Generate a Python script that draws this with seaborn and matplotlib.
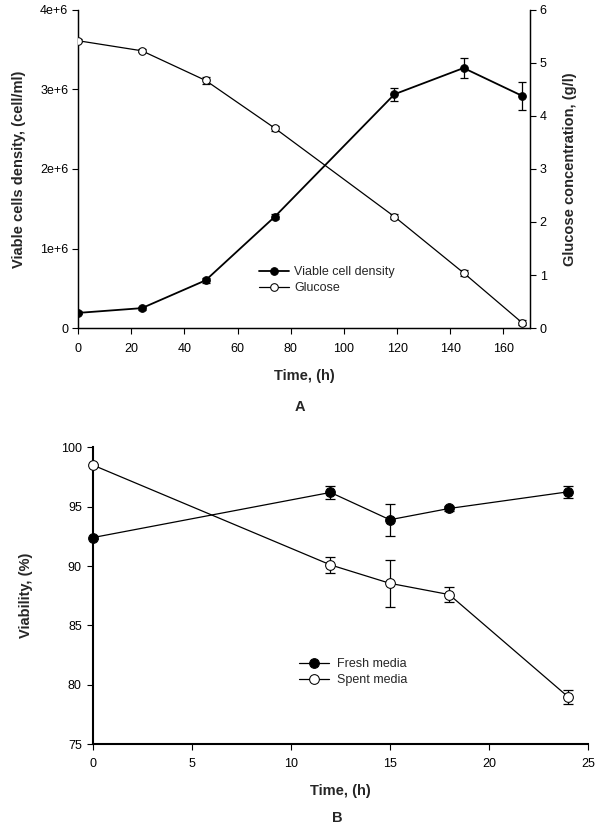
import matplotlib
matplotlib.use("Agg")
import matplotlib.pyplot as plt
import matplotlib.ticker as mticker
import seaborn as sns
import pandas as pd

# Panel A data
time_a = [0, 24, 48, 74, 119, 145, 167]
viable = [0.19e6, 0.25e6, 0.60e6, 1.40e6, 2.94e6, 3.27e6, 2.92e6]
viable_err = [0.02e6, 0.02e6, 0.03e6, 0.03e6, 0.08e6, 0.13e6, 0.18e6]
glucose = [5.42, 5.23, 4.67, 3.77, 2.10, 1.04, 0.10]
glucose_err = [0.03, 0.03, 0.07, 0.05, 0.05, 0.05, 0.05]

# Panel B data
time_b = [0, 12, 15, 18, 24]
fresh = [92.4, 96.2, 93.9, 94.85, 96.25]
fresh_err = [0.1, 0.55, 1.33, 0.2, 0.5]
spent = [98.5, 90.1, 88.55, 87.6, 79.0]
spent_err = [0.1, 0.67, 2.0, 0.63, 0.6]

sns.set_style("ticks")
plt.rcParams['font.family'] = ['Liberation Sans', 'DejaVu Sans']
plt.rcParams['axes.edgecolor'] = 'black'
plt.rcParams['xtick.color'] = 'black'
plt.rcParams['ytick.color'] = 'black'

fig = plt.figure(figsize=(6.01, 8.30), dpi=100)

# ---- Panel A ----
ax1 = fig.add_axes([0.1298, 0.6048, 0.882 - 0.1298, 0.988 - 0.6048])
ax2 = ax1.twinx()
df_a = pd.DataFrame({"time": time_a, "viable": viable, "glucose": glucose})

ax1.errorbar(time_a, viable, yerr=viable_err, fmt='none', ecolor='black',
             elinewidth=0.9, capsize=3, capthick=0.9, zorder=2)
sns.lineplot(data=df_a, x="time", y="viable", ax=ax1, color='black', linewidth=1.3,
             marker='o', markersize=5.5, markerfacecolor='black', markeredgecolor='black',
             label="Viable cell density", legend=False, zorder=3)
ax2.errorbar(time_a, glucose, yerr=glucose_err, fmt='none', ecolor='black',
             elinewidth=0.9, capsize=3, capthick=0.9, zorder=2)
sns.lineplot(data=df_a, x="time", y="glucose", ax=ax2, color='black', linewidth=0.9,
             marker='o', markersize=5.5, markerfacecolor='white', markeredgecolor='black',
             label="Glucose", legend=False, zorder=3)

ax1.set_xlim(0, 170)
ax1.set_ylim(0, 4e6)
ax2.set_ylim(0, 6)
ax1.set_xticks(range(0, 170, 20))
ax1.set_yticks([0, 1e6, 2e6, 3e6, 4e6])
ax1.yaxis.set_major_formatter(mticker.FuncFormatter(
    lambda v, p: "0" if v == 0 else f"{int(round(v / 1e6))}e+6"))
ax2.set_yticks(range(0, 7))
for ax in (ax1, ax2):
    ax.spines['top'].set_visible(False)
    for s in ax.spines.values():
        s.set_linewidth(0.9)
    ax.tick_params(labelsize=9, width=0.8, length=4, pad=3)
    ax.set_xlabel("")
ax1.tick_params(axis='x', pad=7)
ax1.set_xlabel("Time, (h)", fontsize=10.5, fontweight='bold', labelpad=10)
ax1.set_ylabel("Viable cells density, (cell/ml)", fontsize=10.5, fontweight='bold', labelpad=10)
ax2.set_ylabel("Glucose concentration, (g/l)", fontsize=10.5, fontweight='bold', labelpad=12)

h1, l1 = ax1.get_legend_handles_labels()
h2, l2 = ax2.get_legend_handles_labels()
fig.legend(h1 + h2, l1 + l2, loc='upper left', bbox_to_anchor=(248 / 601, 1 - 255 / 830),
           frameon=False, fontsize=9, handlelength=2.4, handletextpad=0.4, labelspacing=0.3)
fig.text(300 / 601, 1 - 407 / 830, "A", ha='center', va='center', fontsize=10.5, fontweight='bold')

# ---- Panel B ----
ax3 = fig.add_axes([0.1547, 0.1033, 0.978 - 0.1547, 0.4611 - 0.1033])
df_b = pd.DataFrame({"time": time_b, "fresh": fresh, "spent": spent})
ax3.errorbar(time_b, fresh, yerr=fresh_err, fmt='none', ecolor='black',
             elinewidth=0.9, capsize=3.5, capthick=0.9, zorder=2)
ax3.errorbar(time_b, spent, yerr=spent_err, fmt='none', ecolor='black',
             elinewidth=0.9, capsize=3.5, capthick=0.9, zorder=2)
sns.lineplot(data=df_b, x="time", y="fresh", ax=ax3, color='black', linewidth=0.9,
             marker='o', markersize=7, markerfacecolor='black', markeredgecolor='black',
             label="Fresh media", legend=False, zorder=3, clip_on=False)
sns.lineplot(data=df_b, x="time", y="spent", ax=ax3, color='black', linewidth=0.9,
             marker='o', markersize=7, markerfacecolor='white', markeredgecolor='black',
             label="Spent media", legend=False, zorder=3, clip_on=False)
ax3.set_xlim(0, 25)
ax3.set_ylim(75, 100)
ax3.set_xticks(range(0, 26, 5))
ax3.set_yticks(range(75, 101, 5))
ax3.spines['top'].set_visible(False)
ax3.spines['right'].set_visible(False)
for s in ax3.spines.values():
    s.set_linewidth(1.5)
ax3.tick_params(labelsize=9, width=0.8, length=4, pad=4)
ax3.tick_params(axis='x', pad=6)
ax3.set_xlabel("Time, (h)", fontsize=10.5, fontweight='bold', labelpad=10)
ax3.set_ylabel("Viability, (%)", fontsize=10.5, fontweight='bold', labelpad=20)
ax3.legend(loc='upper left', bbox_to_anchor=(288 / 601, 1 - 647 / 830),
           bbox_transform=fig.transFigure, frameon=False, fontsize=9,
           handlelength=2.4, handletextpad=0.6, labelspacing=0.3)
fig.text(337 / 601, 1 - 818 / 830, "B", ha='center', va='center', fontsize=10.5, fontweight='bold')

fig.savefig("out.png", dpi=100)
